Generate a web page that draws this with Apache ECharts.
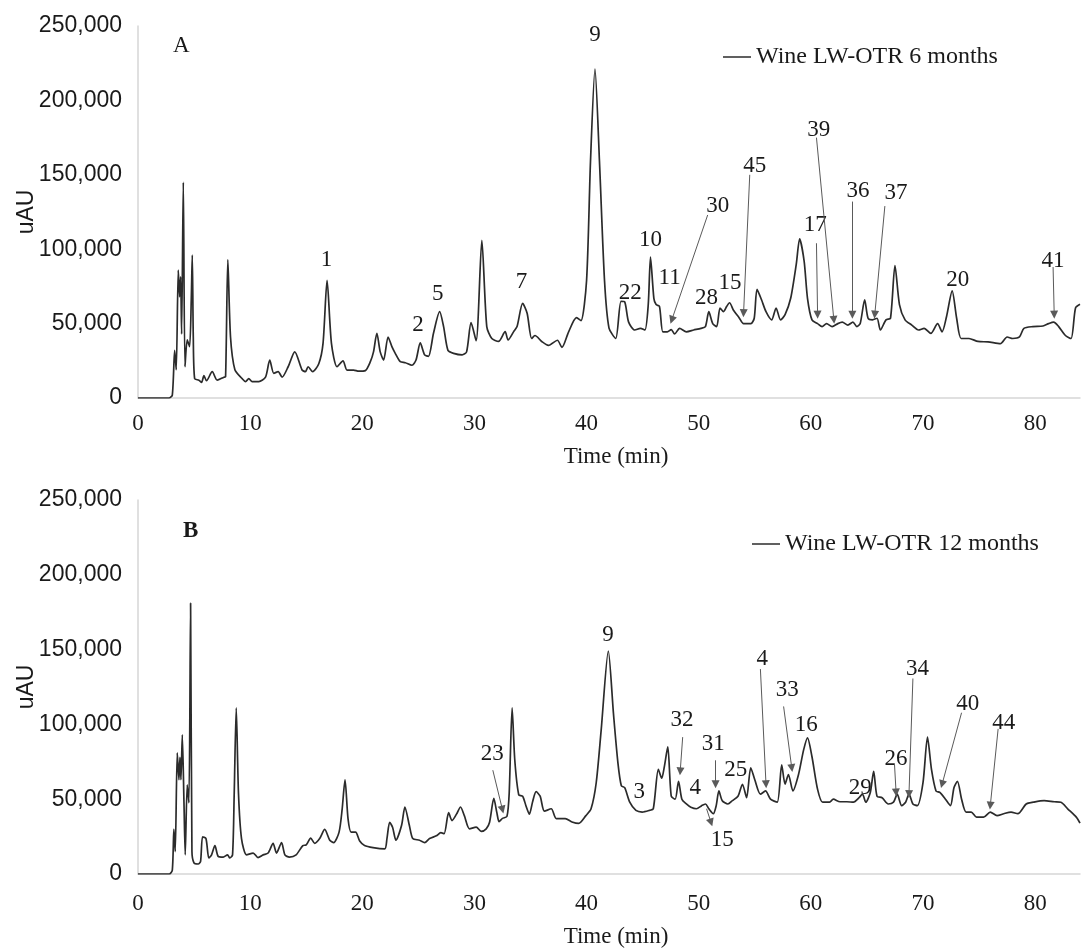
<!DOCTYPE html>
<html>
<head>
<meta charset="utf-8">
<script src="https://cdn.jsdelivr.net/npm/echarts@6/dist/echarts.min.js"></script>
<style>
html,body{margin:0;padding:0;background:#fff;}
#chart{width:1083px;height:949px;}
</style>
</head>
<body>
<div id="chart"></div>
<script>
// ---------- DATA ----------
const xTicks = [0, 10, 20, 30, 40, 50, 60, 70, 80];
const yTicks = [0, 50000, 100000, 150000, 200000, 250000];

const seriesNameA = 'Wine LW-OTR 6 months';
const seriesNameB = 'Wine LW-OTR 12 months';

// Panel A chromatogram (time in min, signal in uAU)
const aTime = [0,2.76,3.06,3.27,3.41,3.59,3.71,3.8,3.89,4.04,4.19,4.39,4.6,4.75,4.84,4.93,5.05,5.43,5.67,5.88,6.11,6.62,7.06,7.66,7.81,8.01,8.25,8.64,9.29,9.59,9.88,10.18,10.77,11.37,11.75,12.11,12.5,12.85,13.39,13.98,14.63,14.93,15.17,15.58,16.12,16.5,16.86,17.25,17.75,18.28,18.64,19.23,19.68,20.27,20.72,21.0,21.3,21.6,21.9,22.3,22.64,22.94,23.39,23.84,24.43,24.79,25.17,25.56,25.9,26.35,26.9,27.25,27.64,28.14,28.9,29.3,29.7,30.15,30.66,31.1,31.55,32.15,32.74,33.0,33.5,33.8,34.3,34.7,35.1,35.4,36.0,36.6,37.4,37.8,38.4,39.1,39.5,40.0,40.35,40.75,41.15,41.6,42.0,42.6,43.07,43.4,43.75,44.3,44.8,45.2,45.5,45.7,46.0,46.2,46.5,46.8,47.2,47.55,47.85,48.3,48.9,49.55,50.2,50.6,50.9,51.25,51.6,51.9,52.2,52.5,52.75,53.1,53.6,54.0,54.65,54.95,55.2,55.6,56.0,56.5,56.9,57.3,57.7,58.2,58.7,59.0,59.4,59.7,60.1,60.6,61.0,61.4,61.9,62.4,62.8,63.3,63.75,64.1,64.4,64.8,65.1,65.5,65.9,66.2,66.7,67.1,67.5,67.9,68.4,69.0,69.6,70.1,70.7,71.3,71.7,72.1,72.6,73.0,73.4,74.1,74.9,75.8,76.9,77.5,78.0,78.6,79.0,79.8,80.7,81.2,81.65,82.1,82.7,83.2,83.6,84.0];
const aValue = [0,0,2000,32000,19000,86000,68000,81500,43000,145000,21000,39000,34500,66000,96000,41000,13000,12000,10500,15000,11600,17700,12000,14000,14300,93000,41000,19000,13000,11000,13000,11000,11000,14000,25500,16600,17700,14000,21000,31000,18800,17700,21000,17700,23000,36700,79000,36700,21000,25000,18800,18800,18000,18400,24400,31000,43500,31000,25500,41000,34500,30000,24400,23700,22000,25500,37000,29000,28000,43500,58000,48000,32000,30000,29000,31000,50600,38500,106000,48000,40000,38000,44600,39000,44600,48000,63600,57000,40000,42000,38000,35400,38800,34000,44500,54000,52000,79000,159000,221000,159000,79000,47000,40000,65000,64600,51000,45700,46800,45700,62800,94700,67000,62800,61600,44500,44500,46000,43000,46800,44500,45700,46800,48000,58000,50000,48000,60500,58000,61600,64000,59000,54000,50000,50000,53600,73000,66000,58000,52500,60500,52500,56000,67000,90000,107000,92000,67000,52500,50000,48000,50000,48000,50000,51000,49000,51000,48000,50000,66000,53600,52500,53600,45700,52500,53600,89000,62800,52500,49000,45700,46800,43400,50000,44500,54800,72000,53600,40000,40000,38000,37700,36500,41000,40000,41000,46800,48000,48400,50000,51000,48000,42000,40000,60500,63000];

// Panel B chromatogram
const bTime = [0,2.79,3.06,3.2,3.32,3.5,3.65,3.74,3.83,3.95,4.1,4.21,4.39,4.54,4.69,4.81,4.99,5.37,5.58,5.76,6.06,6.32,6.56,6.86,7.15,7.6,7.98,8.19,8.43,8.58,8.76,8.96,9.23,9.68,10.27,10.7,11.16,11.6,12.05,12.35,12.8,13.1,13.5,14.1,14.7,15.0,15.4,15.76,16.2,16.65,17.1,17.45,17.93,18.2,18.46,18.73,19.0,19.4,19.77,20.2,20.96,22.0,22.2,22.44,22.7,23.0,23.5,23.8,24.2,24.5,25.1,25.56,26.0,26.6,27.0,27.3,27.7,28.0,28.4,28.76,29.1,29.56,30.16,30.6,31.05,31.35,31.73,32.0,32.2,32.5,32.9,33.1,33.36,33.6,33.95,34.3,34.6,34.9,35.2,35.5,35.86,36.24,36.85,37.3,38.1,38.7,39.3,39.94,40.4,40.86,41.3,41.94,42.4,42.8,43.1,43.4,43.85,44.4,44.96,45.6,45.95,46.4,46.7,46.94,47.24,47.55,47.9,48.2,48.5,48.9,49.3,49.8,50.26,50.6,50.9,51.3,51.56,51.8,52.1,52.6,53.0,53.5,53.9,54.27,54.64,55.0,55.5,55.96,56.4,57.0,57.4,57.7,58.0,58.4,58.9,59.35,59.7,60.1,60.6,61.05,61.67,62.0,62.6,63.2,63.8,64.3,64.6,64.9,65.3,65.6,65.9,66.35,66.9,67.37,67.7,68.1,68.45,68.75,69.1,69.5,70.0,70.4,70.76,71.16,71.5,72.0,72.45,72.76,73.07,73.44,73.84,74.3,74.77,75.4,76.0,76.6,77.2,77.85,78.46,79.2,79.85,80.8,81.7,82.3,82.9,83.67,84.0];
const bValue = [0,0,2600,30000,15000,81000,63000,78000,63000,93000,47600,12800,59600,47600,181000,15000,7400,6700,8500,24800,23700,10700,12800,19000,11800,11300,12800,10700,12800,54000,111000,54000,23700,12800,14000,11000,12800,14000,20500,14000,21000,12800,11300,12800,19000,19400,24000,20500,23700,29800,22600,21000,28000,43000,63000,36800,28000,28000,22000,19000,17600,16800,23700,34600,31300,22600,32400,44800,32400,23700,22600,21000,23700,25500,27600,27000,41000,35700,40000,44800,39000,30200,31300,28500,30200,34600,50500,41000,35000,37200,38500,54000,111000,76000,53000,52000,45500,40000,48700,55000,52000,42000,43600,37000,37000,34800,33800,39000,43600,61000,96000,149000,107000,74000,59000,57700,48000,42500,41400,42500,43600,70000,64000,72000,85000,52000,50000,62000,50000,46800,44600,43600,45700,46800,43600,40300,45700,55500,49000,46800,49000,52000,60000,51000,71000,63000,53400,55500,50000,48000,73000,60000,66500,55500,66500,82800,91000,78400,56600,48000,48000,50000,48300,48300,48000,51000,53400,48000,54500,68600,52000,51000,46800,48000,53400,45700,48000,53400,46800,45700,61000,91500,69700,55500,54500,50000,45700,57700,62000,50000,41400,41400,38000,38000,41400,39000,40300,41400,40300,46800,48000,49000,48300,48000,43600,38000,34000];

// Peak labels: text, time, signal level of label centre
const aLabelText = ['1','2','5','7','9','22','10','11','28','15','30','45','39','17','36','37','20','41'];
const aLabelTime = [16.8,24.96,26.74,34.2,40.75,43.9,45.7,47.4,50.7,52.8,51.7,55.0,60.7,60.4,64.2,67.6,73.1,81.6];
const aLabelValue = [93000,49000,70000,78000,244000,70800,106000,81000,67000,77000,129000,156000,180000,116000,139000,138000,79000,92000];

const bLabelText = ['23','9','3','32','4','31','15','25','4','33','16','29','26','34','40','44'];
const bLabelTime = [31.6,41.9,44.7,48.5,49.7,51.3,52.1,53.3,55.66,57.9,59.6,64.4,67.6,69.5,74.0,77.2];
const bLabelValue = [80000,160000,55000,103000,57700,86700,22900,69700,143700,123000,99700,57700,77000,136800,114000,101000];

// Arrows: start (time, signal) -> tip (time, signal)
const aArrowFromTime = [50.8,54.55,60.5,60.5,63.7,66.6,81.6];
const aArrowFromValue = [123000,150000,175000,104000,132000,129000,88000];
const aArrowToTime = [47.6,54.0,62.05,60.6,63.7,65.7,81.7];
const aArrowToValue = [52500,57000,52500,56000,56000,56000,56000];

const bArrowFromTime = [31.64,48.57,51.5,50.7,55.5,57.57,67.46,69.1,73.44,76.7];
const bArrowFromValue = [69400,91500,76000,43600,137000,112000,73000,130700,107800,97000];
const bArrowToTime = [32.5,48.35,51.5,51.1,56.0,58.3,67.6,68.75,71.7,76.0];
const bArrowToValue = [43000,68600,60000,34400,60000,70800,54500,53400,60000,45700];

// ---------- BUILD ----------
const zip = (xs, ys) => xs.map((x, i) => [x, ys[i]]);
const labelsData = (txt, xs, ys) => txt.map((t, i) => [xs[i], ys[i], t]);
const arrowsData = (fx, fy, tx, ty) => fx.map((x, i) => [{coord: [x, fy[i]]}, {coord: [tx[i], ty[i]]}]);
const fmtThousands = v => String(v).replace(/\B(?=(\d{3})+(?!\d))/g, ',');

const SERIF = '"Liberation Serif", "Times New Roman", serif';
const SANS = '"Liberation Sans", Arial, sans-serif';
const TXT = '#1a1a1a';
const AXIS = '#d6d6d6';

function xAxisCfg(gi, margin, gap) {
  return {
    gridIndex: gi, type: 'value', min: 0, max: 84, interval: 10,
    axisLine: {show: true, lineStyle: {color: AXIS, width: 1.5}},
    axisTick: {show: false}, splitLine: {show: false},
    axisLabel: {
      formatter: v => (xTicks.indexOf(v) >= 0 ? String(v) : ''),
      fontFamily: SERIF, fontSize: 23, color: TXT, margin: margin
    },
    name: 'Time (min)', nameLocation: 'middle', nameGap: gap,
    nameTextStyle: {fontFamily: SERIF, fontSize: 23, color: TXT, padding: [0, 0, 0, 14]}
  };
}
function yAxisCfg(gi) {
  return {
    gridIndex: gi, type: 'value', min: yTicks[0], max: yTicks[yTicks.length - 1], interval: 50000,
    axisLine: {show: true, lineStyle: {color: AXIS, width: 1.5}},
    axisTick: {show: false}, splitLine: {show: false},
    axisLabel: {formatter: v => fmtThousands(v), fontFamily: SANS, fontSize: 23, color: TXT, margin: 16},
    name: 'uAU', nameLocation: 'middle', nameGap: 100, nameMoveOverlap: false,
    nameTextStyle: {fontFamily: SANS, fontSize: 23, color: TXT}
  };
}
function traceSeries(name, gi, data, arrows) {
  return {
    name: name, type: 'line', xAxisIndex: gi, yAxisIndex: gi,
    data: data, showSymbol: false, smooth: 0.25,
    color: '#2b2b2b', lineStyle: {color: '#2b2b2b', width: 1.7},
    silent: true,
    markLine: {
      silent: true, animation: false,
      symbol: ['none', 'triangle'], symbolSize: 8,
      lineStyle: {color: '#5a5a5a', width: 1, type: 'solid', opacity: 1},
      itemStyle: {color: '#111', opacity: 1},
      label: {show: false}, emphasis: {disabled: true},
      data: arrows
    }
  };
}
function labelSeries(gi, data) {
  return {
    type: 'scatter', xAxisIndex: gi, yAxisIndex: gi, data: data,
    symbolSize: 0, silent: true,
    itemStyle: {color: TXT, opacity: 1},
    emphasis: {disabled: true},
    label: {
      show: true, position: 'inside', formatter: p => p.value[2],
      fontFamily: SERIF, fontSize: 23, color: TXT, opacity: 1,
      textBorderWidth: 0
    }
  };
}

const chart = echarts.init(document.getElementById('chart'), null, {renderer: 'canvas'});
chart.setOption({
  animation: false,
  backgroundColor: '#fff',
  grid: [
    {left: 138, right: 1, top: 26, height: 372},
    {left: 138, right: 1, top: 500, height: 383}
  ],
  xAxis: [xAxisCfg(0, 14, 47), xAxisCfg(1, 18, 51)],
  yAxis: [yAxisCfg(0), yAxisCfg(1)],
  legend: [
    {data: [seriesNameA], left: 718, top: 40, icon: 'rect', itemWidth: 28, itemHeight: 1.5,
     selectedMode: false, textStyle: {fontFamily: SERIF, fontSize: 24, color: TXT}},
    {data: [seriesNameB], left: 747, top: 527, icon: 'rect', itemWidth: 28, itemHeight: 1.5,
     selectedMode: false, textStyle: {fontFamily: SERIF, fontSize: 24, color: TXT}}
  ],
  graphic: [
    {type: 'text', left: 173, top: 34, style: {text: 'A', fontFamily: SERIF, fontSize: 23, fill: TXT}},
    {type: 'text', left: 183, top: 520, style: {text: 'B', fontFamily: SERIF, fontSize: 23, fontWeight: 'bold', fill: TXT}}
  ],
  series: [
    traceSeries(seriesNameA, 0, zip(aTime, aValue), arrowsData(aArrowFromTime, aArrowFromValue, aArrowToTime, aArrowToValue)),
    traceSeries(seriesNameB, 1, zip(bTime, bValue), arrowsData(bArrowFromTime, bArrowFromValue, bArrowToTime, bArrowToValue)),
    labelSeries(0, labelsData(aLabelText, aLabelTime, aLabelValue)),
    labelSeries(1, labelsData(bLabelText, bLabelTime, bLabelValue))
  ]
});
</script>
</body>
</html>
